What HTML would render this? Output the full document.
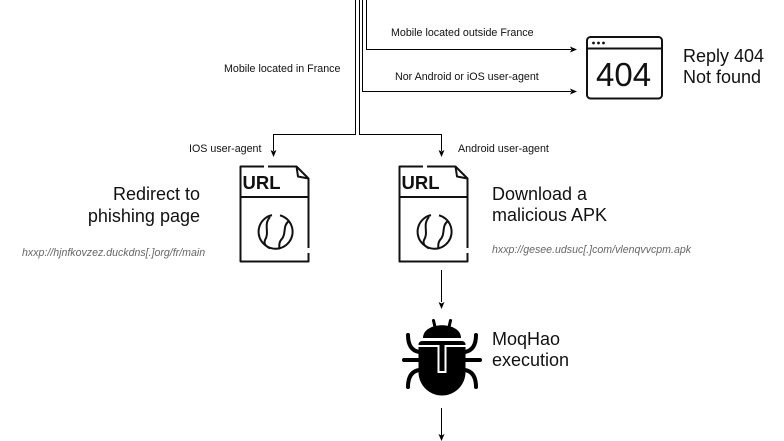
<!DOCTYPE html>
<html><head><meta charset="utf-8"><style>
html,body{margin:0;padding:0;background:#fff;}
svg{display:block;}
text{font-family:"Liberation Sans",Arial,sans-serif;}
</style></head><body>
<svg width="784" height="441" viewBox="0 0 784 441" xmlns="http://www.w3.org/2000/svg">
<g fill="none" stroke="#000" stroke-width="1">
  <path d="M366.5,0 V49.5 H571"/>
  <path d="M362.5,0 V91.5 H571"/>
  <path d="M355.5,0 V134.5 H273.5 V151"/>
  <path d="M359.5,0 V134.5 H441.5 V151"/>
  <path d="M441.5,270 V302"/>
  <path d="M441.5,408 V436"/>
</g>
<g fill="#000">
  <polygon points="577,49.5 570,46.5 571.5,49.5 570,52.5"/>
  <polygon points="577,91.5 570,88.5 571.5,91.5 570,94.5"/>
  <polygon points="273.5,157 270.5,150 273.5,151.5 276.5,150"/>
  <polygon points="441.5,157 438.5,150 441.5,151.5 444.5,150"/>
  <polygon points="441.5,309 438.5,302 441.5,303.5 444.5,302"/>
  <polygon points="441.5,441 438.5,434 441.5,435.5 444.5,434"/>
</g>

<g font-size="10.7" fill="#111">
  <text x="391" y="36">Mobile located outside France</text>
  <text x="395" y="80">Nor Android or iOS user-agent</text>
  <text x="224" y="72">Mobile located in France</text>
  <text x="189" y="152">IOS user-agent</text>
  <text x="458" y="152">Android user-agent</text>
</g>

<g fill="none" stroke="#111" stroke-width="2">
  <rect x="587" y="37" width="75" height="61.5" rx="3.5"/>
  <line x1="587" y1="48.5" x2="662" y2="48.5"/>
</g>
<g fill="#111">
  <circle cx="593.5" cy="43" r="1.4"/>
  <circle cx="598.5" cy="43" r="1.4"/>
  <circle cx="603.5" cy="43" r="1.4"/>
</g>
<text x="596" y="86" font-size="33" fill="#111">404</text>
<g font-size="18" fill="#111">
  <text x="683" y="62">Reply 404</text>
  <text x="683" y="83">Not found</text>
</g>

<g>
  <g fill="none" stroke="#111" stroke-width="2" stroke-linejoin="round">
    <path d="M264,166.5 H240.5 V261.5 H308.5 V253"/>
    <path d="M308.5,248 V178.5 L296.5,166.5 H268"/>
    <path d="M296.5,166.5 L298,176.5 L308.5,178.5"/>
    <line x1="240.5" y1="197" x2="308.5" y2="197"/>
    <path d="M272,215.1 A17,17 0 1 0 280,215.3"/>
    <path d="M270,217 C263,225 270,232 265,240 C263,245 268,247 270,248.5"/>
    <path d="M289,221 C282,226 287,234 281,240 C278,244 280,247 279,249"/>
  </g>
  <text x="242.5" y="189" font-size="18.5" font-weight="bold" fill="#111">URL</text>
</g>
<g transform="translate(159,0)">
  <g fill="none" stroke="#111" stroke-width="2" stroke-linejoin="round">
    <path d="M264,166.5 H240.5 V261.5 H308.5 V253"/>
    <path d="M308.5,248 V178.5 L296.5,166.5 H268"/>
    <path d="M296.5,166.5 L298,176.5 L308.5,178.5"/>
    <line x1="240.5" y1="197" x2="308.5" y2="197"/>
    <path d="M272,215.1 A17,17 0 1 0 280,215.3"/>
    <path d="M270,217 C263,225 270,232 265,240 C263,245 268,247 270,248.5"/>
    <path d="M289,221 C282,226 287,234 281,240 C278,244 280,247 279,249"/>
  </g>
  <text x="242.5" y="189" font-size="18.5" font-weight="bold" fill="#111">URL</text>
</g>

<g font-size="18" fill="#111" text-anchor="end">
  <text x="200" y="200">Redirect to</text>
  <text x="200" y="222">phishing page</text>
</g>
<text x="22" y="256" font-size="10.6" font-style="italic" fill="#666">hxxp://hjnfkovzez.duckdns[.]org/fr/main</text>

<g font-size="18" fill="#111">
  <text x="492" y="200">Download a</text>
  <text x="492" y="221">malicious APK</text>
</g>
<text x="492" y="253" font-size="10.6" font-style="italic" fill="#666">hxxp://gesee.udsuc[.]com/vlenqvvcpm.apk</text>

<g>
  <g stroke="#000" stroke-width="3" stroke-linecap="round">
    <line x1="435" y1="327" x2="433.5" y2="320.5"/>
    <line x1="449" y1="327" x2="450.5" y2="320.5"/>
  </g>
  <path d="M423,338 C423,321 461,321 461,338 Z" fill="#000"/>
  <path d="M418.5,345 Q418.5,341 422.5,341 H461.5 Q465.5,341 465.5,345 V372 A23.5,23.5 0 0 1 418.5,372 Z" fill="#000"/>
  <path d="M418.5,346 H438.5 V372 H445.5 V346 H465.5" fill="none" stroke="#fff" stroke-width="2"/>
  <g fill="none" stroke="#000" stroke-width="4" stroke-linecap="round">
    <path d="M419,352 Q408,350 408,335"/>
    <path d="M404,360 H419"/>
    <path d="M419,370 Q408,372 408,387"/>
    <path d="M465,352 Q476,350 476,335"/>
    <path d="M480,360 H465"/>
    <path d="M465,370 Q476,372 476,387"/>
  </g>
</g>
<g font-size="18" fill="#111">
  <text x="492" y="345">MoqHao</text>
  <text x="492" y="366">execution</text>
</g>
</svg>
</body></html>
